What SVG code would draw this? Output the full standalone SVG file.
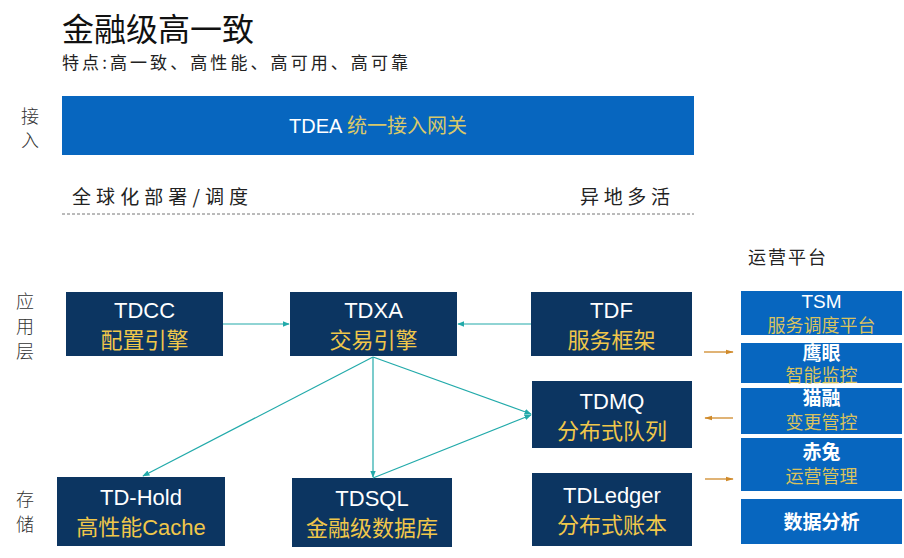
<svg xmlns="http://www.w3.org/2000/svg" width="904" height="558" viewBox="0 0 904 558">
<defs>
<style>
.cjk{font-family:"Noto Sans CJK SC","Liberation Sans",sans-serif;}
.lab{font-family:"Noto Sans CJK SC",sans-serif;font-size:18px;fill:#333;text-anchor:middle;font-weight:300;}
.node{fill:#0c3561;}
.ops{fill:#0766bf;}
.t1{font-family:"Liberation Sans","Noto Sans CJK SC",sans-serif;font-size:22px;fill:#ffffff;text-anchor:middle;}
.t2{font-family:"Liberation Sans","Noto Sans CJK SC",sans-serif;font-size:22px;fill:#f0c74a;text-anchor:middle;}
.o1{font-family:"Liberation Sans","Noto Sans CJK SC",sans-serif;font-size:19px;fill:#ffffff;text-anchor:middle;font-weight:bold;}
.o1n{font-family:"Liberation Sans","Noto Sans CJK SC",sans-serif;font-size:19px;fill:#ffffff;text-anchor:middle;}
.o2{font-family:"Liberation Sans","Noto Sans CJK SC",sans-serif;font-size:18px;fill:#d9c25e;text-anchor:middle;}
.con{stroke:#22aaaa;stroke-width:1.2;fill:none;marker-end:url(#ah);}
.oc{stroke:#d08a2a;stroke-width:1.3;fill:none;}
</style>
<marker id="ah" viewBox="0 0 10 10" refX="9" refY="5" markerWidth="6" markerHeight="6" orient="auto"><path d="M0,1 L10,5 L0,9 z" fill="#22aaaa"/></marker>
<marker id="oa" viewBox="0 0 10 10" refX="9" refY="5" markerWidth="6" markerHeight="6" orient="auto"><path d="M0,2 L10,5 L0,8 z" fill="#d08a2a"/></marker>
</defs>
<rect width="904" height="558" fill="#ffffff"/>

<g id="title">
<text x="62" y="41" class="cjk" font-size="32" fill="#111">金融级高一致</text>
<text x="62" y="69" class="cjk" font-size="17" fill="#222" textLength="346" lengthAdjust="spacing">特点:高一致、高性能、高可用、高可靠</text>
</g>

<g id="side-labels">
<text x="30" y="123" class="lab">接</text>
<text x="30" y="147" class="lab">入</text>
<text x="25" y="308" class="lab">应</text>
<text x="25" y="333" class="lab">用</text>
<text x="25" y="358" class="lab">层</text>
<text x="25" y="506" class="lab">存</text>
<text x="25" y="531" class="lab">储</text>
</g>

<g id="tdea">
<rect x="62" y="96" width="632" height="59" fill="#0766bf"/>
<text x="378" y="133" font-family="Liberation Sans,Noto Sans CJK SC,sans-serif" font-size="20" text-anchor="middle"><tspan fill="#ffffff">TDEA </tspan><tspan fill="#d8c86a">统一接入网关</tspan></text>
</g>

<g id="global">
<text x="72" y="204" class="cjk" font-size="19" fill="#222" textLength="176" lengthAdjust="spacing">全球化部署/调度</text>
<text x="580" y="204" class="cjk" font-size="19" fill="#222" textLength="90" lengthAdjust="spacing">异地多活</text>
<line x1="62" y1="214" x2="694" y2="214" stroke="#777" stroke-width="1" stroke-dasharray="3,2"/>
</g>

<g id="ops-title">
<text x="748" y="264" class="cjk" font-size="18" fill="#222" textLength="78" lengthAdjust="spacing">运营平台</text>
</g>

<g id="tdcc">
<rect x="66" y="292" width="157" height="64" class="node"/>
<text x="144.5" y="318" class="t1">TDCC</text>
<text x="144.5" y="348" class="t2">配置引擎</text>
</g>
<g id="tdxa">
<rect x="290" y="292" width="167" height="64" class="node"/>
<text x="373.5" y="318" class="t1">TDXA</text>
<text x="373.5" y="348" class="t2">交易引擎</text>
</g>
<g id="tdf">
<rect x="531" y="292" width="161" height="64" class="node"/>
<text x="611.5" y="318" class="t1">TDF</text>
<text x="611.5" y="348" class="t2">服务框架</text>
</g>
<g id="tdmq">
<rect x="532" y="381" width="160" height="67" class="node"/>
<text x="612" y="409" class="t1">TDMQ</text>
<text x="612" y="439" class="t2">分布式队列</text>
</g>
<g id="tdhold">
<rect x="57" y="477" width="168" height="69" class="node"/>
<text x="141" y="505" class="t1">TD-Hold</text>
<text x="141" y="535" class="t2">高性能Cache</text>
</g>
<g id="tdsql">
<rect x="292" y="478" width="160" height="69" class="node"/>
<text x="372" y="506" class="t1">TDSQL</text>
<text x="372" y="536" class="t2">金融级数据库</text>
</g>
<g id="tdledger">
<rect x="532" y="473" width="160" height="73" class="node"/>
<text x="612" y="503" class="t1">TDLedger</text>
<text x="612" y="533" class="t2">分布式账本</text>
</g>

<g id="tsm">
<rect x="741" y="291" width="161" height="44" class="ops"/>
<text x="821.5" y="308" class="o1n">TSM</text>
<text x="821.5" y="332" class="o2">服务调度平台</text>
</g>
<g id="yingyan">
<rect x="741" y="343" width="161" height="40" class="ops"/>
<text x="821.5" y="360" class="o1">鹰眼</text>
<text x="821.5" y="382" class="o2">智能监控</text>
</g>
<g id="maorong">
<rect x="741" y="388" width="161" height="46" class="ops"/>
<text x="821.5" y="405" class="o1">猫融</text>
<text x="821.5" y="429" class="o2">变更管控</text>
</g>
<g id="chitu">
<rect x="741" y="438" width="161" height="53" class="ops"/>
<text x="821.5" y="459" class="o1">赤兔</text>
<text x="821.5" y="483" class="o2">运营管理</text>
</g>
<g id="data">
<rect x="741" y="499" width="161" height="45" class="ops"/>
<text x="821.5" y="529" class="o1">数据分析</text>
</g>

<g id="connectors">
<line x1="223" y1="324" x2="289" y2="324" class="con"/>
<line x1="531" y1="324" x2="458" y2="324" class="con"/>
<line x1="373" y1="357" x2="143" y2="476" class="con"/>
<line x1="373" y1="357" x2="373" y2="477" class="con"/>
<line x1="373" y1="357" x2="531" y2="414" class="con"/>
<line x1="373" y1="478" x2="531" y2="415" class="con"/>
<line x1="704" y1="352" x2="733" y2="352" class="oc" marker-end="url(#oa)"/>
<line x1="733" y1="418" x2="705" y2="418" class="oc" marker-end="url(#oa)"/>
<line x1="705" y1="479" x2="733" y2="479" class="oc" marker-end="url(#oa)"/>
</g>
</svg>
